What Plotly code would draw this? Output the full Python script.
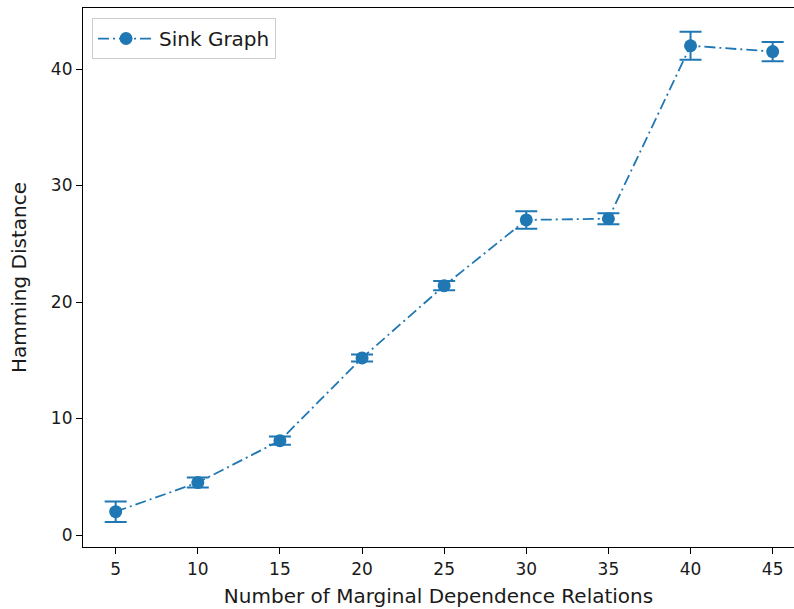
import plotly.graph_objects as go

relations = [5, 10, 15, 20, 25, 30, 35, 40, 45]
hamming = [2.0, 4.5, 8.1, 15.2, 21.4, 27.05, 27.15, 42.0, 41.5]
errors = [0.88, 0.43, 0.35, 0.3, 0.4, 0.75, 0.47, 1.2, 0.83]

blue = "#1f77b4"
tick_font = dict(family="DejaVu Sans", size=17, color="#1a1a1a")
label_font = dict(family="DejaVu Sans", size=20, color="#1a1a1a")

fig = go.Figure()
fig.add_trace(go.Scatter(
    x=relations, y=hamming, name="Sink Graph", mode="lines+markers",
    line=dict(color=blue, width=1.8, dash="11px,4px,2px,4px"),
    marker=dict(color=blue, size=13),
    error_y=dict(type="data", array=errors, visible=True, color=blue, thickness=2, width=11),
))

fig.update_layout(
    width=794, height=609,
    margin=dict(l=83, r=0, t=8, b=62),
    paper_bgcolor="white", plot_bgcolor="white",
    font=tick_font,
    showlegend=True,
    legend=dict(x=0.0127, y=0.9814, xanchor="left", yanchor="top",
                bgcolor="white", bordercolor="#cccccc", borderwidth=1,
                font=label_font, itemwidth=56),
    xaxis=dict(range=[3.01, 46.3], tickvals=relations, ticktext=[str(v) for v in relations],
               showgrid=False, zeroline=False, showline=True, linecolor="black", linewidth=1.2,
               mirror=True, ticks="outside", ticklen=6, tickcolor="black", tickfont=tick_font,
               title=dict(text="Number of Marginal Dependence Relations", standoff=11, font=label_font)),
    yaxis=dict(range=[-1.03, 45.24], tickvals=[0, 10, 20, 30, 40],
               showgrid=False, zeroline=False, showline=True, linecolor="black", linewidth=1.2,
               ticks="outside", ticklen=6, tickcolor="black", tickfont=tick_font,
               title=dict(text="Hamming Distance", standoff=18, font=label_font)),
)

fig.write_html("out.html")
